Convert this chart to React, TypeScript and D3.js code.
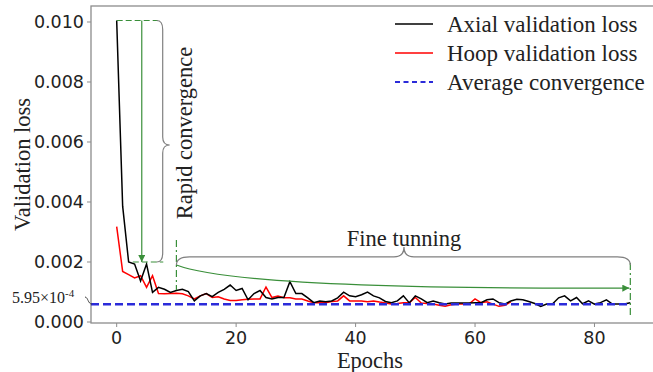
import React from "react";
import * as d3 from "d3";

// ---------- data ----------
const axialLoss = [
  0.01005, 0.00386, 0.0020, 0.00193, 0.001365, 0.00193, 0.000986, 0.001156, 0.00109, 0.000986,
  0.00105, 0.00109, 0.001014, 0.000702, 0.000872, 0.000948, 0.000844, 0.000986, 0.00109, 0.001232,
  0.00105, 0.001118, 0.00074, 0.000948, 0.00105, 0.000815, 0.000768, 0.000815, 0.000815, 0.001346,
  0.000948, 0.000948, 0.000806, 0.000645, 0.000702, 0.000673, 0.000702, 0.000806, 0.000995, 0.000872,
  0.000844, 0.00091, 0.000995, 0.000872, 0.000806, 0.000683, 0.000645, 0.000702, 0.000872, 0.000635,
  0.000872, 0.000768, 0.000645, 0.000702, 0.000645, 0.000597, 0.000635, 0.000635, 0.000635, 0.000635,
  0.000645, 0.000645, 0.00074, 0.000768, 0.000645, 0.000597, 0.000702, 0.000758, 0.00074, 0.000683,
  0.000616, 0.000522, 0.000597, 0.000607, 0.000806, 0.000872, 0.000702, 0.000815, 0.000607, 0.000702,
  0.000597, 0.000645, 0.00074, 0.000597, 0.000597, 0.000597, 0.000645,
];
const hoopLoss = [
  0.00318, 0.001686, 0.00158, 0.001469, 0.001544, 0.001156, 0.001544, 0.000948, 0.000938, 0.000948,
  0.000957, 0.000938, 0.000872, 0.000768, 0.000872, 0.000948, 0.000815, 0.000844, 0.000768, 0.00072,
  0.00072, 0.00074, 0.000758, 0.000768, 0.000768, 0.001166, 0.000815, 0.000863, 0.000806, 0.000806,
  0.000768, 0.000768, 0.000702, 0.000645, 0.000645, 0.000645, 0.000683, 0.000702, 0.000872, 0.000702,
  0.000702, 0.000702, 0.000673, 0.000702, 0.000664, 0.000635, 0.000597, 0.000616, 0.000645, 0.000645,
  0.000815, 0.000635, 0.000616, 0.000597, 0.00056, 0.000522, 0.000578, 0.000597, 0.000597, 0.000597,
  0.000768, 0.000645, 0.000673, 0.000597, 0.000522, 0.00056, 0.000673,
];
const avgConvergence = 0.000595;
const yTicks = [0, 0.002, 0.004, 0.006, 0.008, 0.01];
const xTicks = [0, 20, 40, 60, 80];
const legendLabels = ["Axial validation loss", "Hoop validation loss", "Average convergence"];
const xLabel = "Epochs";
const yLabel = "Validation loss";
const rapidLabel = "Rapid convergence";
const fineLabel = "Fine tunning";

// annotation anchors (data units)
const rapidArrowEpoch = 4.2;
const rapidTop = 0.01005;
const rapidBottom = 0.0020;
const fineStart = 10;
const fineEnd = 86;
const fineCurveStart = 0.0019;
const fineCurveCtrl = [21, 0.00107];
const fineCurveEnd = 0.00113;

const W = 653;
const H = 372;
const SERIF = "'Liberation Serif', 'Times New Roman', serif";
const SANS = "'DejaVu Sans', sans-serif";
const GREEN = "#3a8f3a";
const BRACE = "#808080";
const BLUE = "#2b2bd9";

const FX0 = 91;
const FX1 = 656;
const FY0 = 6;
const FY1 = 323;

export default function App() {
  const x = d3.scaleLinear().domain([-4.3, 90.3]).range([FX0, FX1]);
  const y = d3.scaleLinear().domain([-0.0000333, 0.010533]).range([FY1, FY0]);

  const line = d3
    .line<number>()
    .x((_, i) => x(i))
    .y((d) => y(d));

  // vertical brace
  const bx0 = x(6.7);
  const bx1 = bx0 + 6;
  const btip = bx0 + 13;
  const byT = y(rapidTop);
  const byB = y(rapidBottom);
  const byM = y(0.0059);
  const vBrace = d3.path();
  vBrace.moveTo(bx0, byT);
  vBrace.quadraticCurveTo(bx1, byT, bx1, byT + 9);
  vBrace.lineTo(bx1, byM - 8);
  vBrace.quadraticCurveTo(bx1, byM, btip, byM);
  vBrace.quadraticCurveTo(bx1, byM, bx1, byM + 8);
  vBrace.lineTo(bx1, byB - 9);
  vBrace.quadraticCurveTo(bx1, byB, bx0, byB);

  // horizontal brace
  const hxL = x(fineStart);
  const hxR = x(fineEnd);
  const hxM = x(48.1);
  const hyB = y(0.0019);
  const hyL = y(0.00217);
  const hyT = y(0.0025);
  const hBrace = d3.path();
  hBrace.moveTo(hxL, hyB);
  hBrace.quadraticCurveTo(hxL, hyL, hxL + 13, hyL);
  hBrace.lineTo(hxM - 10, hyL);
  hBrace.quadraticCurveTo(hxM, hyL, hxM, hyT);
  hBrace.quadraticCurveTo(hxM, hyL, hxM + 10, hyL);
  hBrace.lineTo(hxR - 13, hyL);
  hBrace.quadraticCurveTo(hxR, hyL, hxR, hyB);

  // green decaying curve
  const gc = d3.path();
  gc.moveTo(x(fineStart), y(fineCurveStart));
  gc.quadraticCurveTo(x(fineCurveCtrl[0]), y(fineCurveCtrl[1]), x(fineEnd) - 1, y(fineCurveEnd));

  const legY = [24, 53, 82];

  return (
    <svg width={W} height={H} style={{ display: "block", position: "absolute", left: 0, top: 0 }}>
      <defs>
        <marker id="ah" viewBox="0 0 10 10" refX="10" refY="5" markerWidth="9" markerHeight="7" markerUnits="userSpaceOnUse" orient="auto">
          <path d="M0,0 L10,5 L0,10 z" fill={GREEN} />
        </marker>
        <clipPath id="plot">
          <rect x={FX0} y={FY0} width={FX1 - FX0} height={FY1 - FY0} />
        </clipPath>
      </defs>
      <rect x={0} y={0} width={W} height={H} fill="#fff" />

      {/* frame */}
      <rect x={FX0} y={FY0} width={FX1 - FX0} height={FY1 - FY0} fill="none" stroke="#8c8c8c" strokeWidth={1.3} />

      {/* y ticks */}
      {yTicks.map((t) => (
        <g key={"y" + t}>
          <line x1={FX0 - 4} x2={FX0} y1={y(t)} y2={y(t)} stroke="#8c8c8c" strokeWidth={1} />
          <text x={84} y={y(t)} dy="0.36em" textAnchor="end" fontFamily={SANS} fontSize={17.5} fill="#222">
            {t.toFixed(3)}
          </text>
        </g>
      ))}
      {/* x ticks */}
      {xTicks.map((t) => (
        <g key={"x" + t}>
          <line x1={x(t)} x2={x(t)} y1={FY1} y2={FY1 + 4} stroke="#8c8c8c" strokeWidth={1} />
          <text x={x(t)} y={338} dy="0.36em" textAnchor="middle" fontFamily={SANS} fontSize={17.5} fill="#222">
            {t}
          </text>
        </g>
      ))}

      <text x={370} y={360} dy="0.36em" textAnchor="middle" fontFamily={SERIF} fontSize={22.5} fill="#222">
        {xLabel}
      </text>
      <text transform={`translate(22,${(FY0 + FY1) / 2}) rotate(-90)`} textAnchor="middle" dy="0.36em" fontFamily={SERIF} fontSize={22.5} fill="#222">
        {yLabel}
      </text>

      <g clipPath="url(#plot)">
        <path d={line(hoopLoss) || ""} fill="none" stroke="#ff0000" strokeWidth={1.5} />
        <path d={line(axialLoss) || ""} fill="none" stroke="#000" strokeWidth={1.5} />
        <line x1={FX0} x2={x(fineEnd)} y1={y(avgConvergence)} y2={y(avgConvergence)} stroke={BLUE} strokeWidth={2.5} strokeDasharray="8,4" />
      </g>

      {/* rapid convergence annotations */}
      <line x1={x(0)} x2={x(6.9)} y1={y(rapidTop)} y2={y(rapidTop)} stroke={GREEN} strokeWidth={1.2} strokeDasharray="6,3" />
      <line x1={x(2.7)} x2={x(7.8)} y1={y(rapidBottom)} y2={y(rapidBottom)} stroke={GREEN} strokeWidth={1.2} strokeDasharray="6,3" />
      <line x1={x(rapidArrowEpoch)} x2={x(rapidArrowEpoch)} y1={y(rapidTop)} y2={y(rapidBottom)} stroke={GREEN} strokeWidth={1.2} markerEnd="url(#ah)" />
      <path d={vBrace.toString()} fill="none" stroke={BRACE} strokeWidth={1.2} />
      <text transform={`translate(${x(11.3)},${y(0.0063)}) rotate(-90)`} textAnchor="middle" dy="0.36em" fontFamily={SERIF} fontSize={22.5} fill="#222">
        {rapidLabel}
      </text>

      {/* fine tunning annotations */}
      <line x1={x(fineStart)} x2={x(fineStart)} y1={y(0.00273)} y2={y(0.00107)} stroke={GREEN} strokeWidth={1.2} strokeDasharray="7,3,2,3" />
      <line x1={x(fineEnd)} x2={x(fineEnd)} y1={y(0.00197)} y2={y(0.00013)} stroke={GREEN} strokeWidth={1.2} strokeDasharray="7,3,2,3" />
      <path d={gc.toString()} fill="none" stroke={GREEN} strokeWidth={1.2} markerEnd="url(#ah)" />
      <path d={hBrace.toString()} fill="none" stroke={BRACE} strokeWidth={1.2} />
      <text x={hxM} y={y(0.0028)} dy="0.36em" textAnchor="middle" fontFamily={SERIF} fontSize={22.5} fill="#222">
        {fineLabel}
      </text>

      {/* average label */}
      <text x={12} y={297} dy="0.36em" fontFamily={SERIF} fontSize={16} fill="#222">
        5.95×10
        <tspan fontSize={11} dy="-6">-4</tspan>
      </text>
      <path d={`M85,297 C88,297 88,${y(avgConvergence)} 92,${y(avgConvergence)}`} fill="none" stroke="#444" strokeWidth={1} />

      {/* legend */}
      {legendLabels.map((lab, i) => (
        <g key={lab}>
          <line
            x1={395}
            x2={433}
            y1={legY[i]}
            y2={legY[i]}
            stroke={i === 0 ? "#000" : i === 1 ? "#ff0000" : BLUE}
            strokeWidth={i === 2 ? 2 : 1.5}
            strokeDasharray={i === 2 ? "5,3.5" : undefined}
          />
          <text x={447} y={legY[i]} dy="0.36em" fontFamily={SERIF} fontSize={23} fill="#222">
            {lab}
          </text>
        </g>
      ))}
    </svg>
  );
}
